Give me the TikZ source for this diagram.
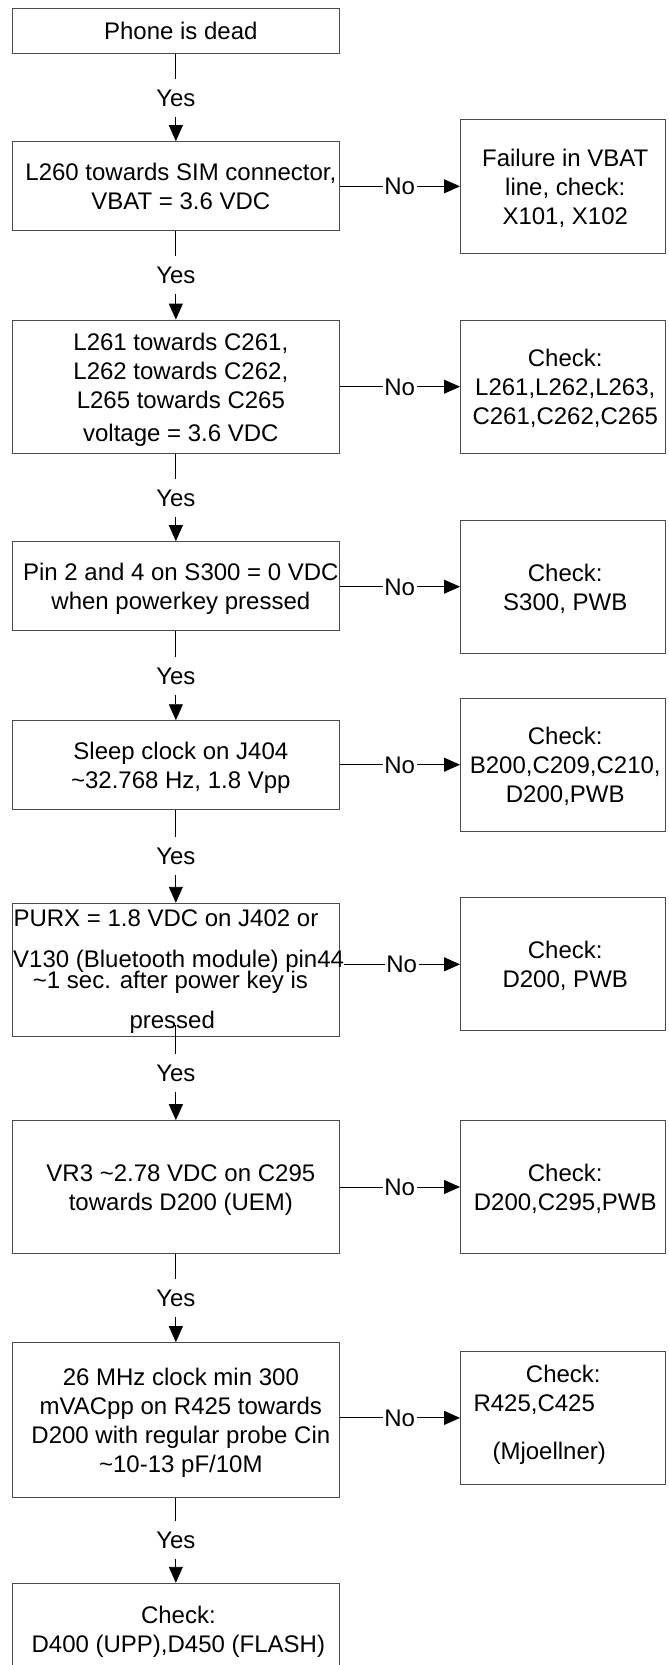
\documentclass[tikz,border=0pt]{standalone}
\usepackage{fontspec}
\setmainfont{Liberation Sans}
\usetikzlibrary{arrows.meta}
\newcommand{\BoxTxt}[2][10pt]{\makebox[0pt]{\hspace*{#1}\raisebox{-3pt}[\height][\depth]{\begin{tabular}{@{}c@{}}#2\end{tabular}}}}
\begin{document}
\begin{tikzpicture}[x=1pt,y=-1pt,
  bigfont/.style={font=\fontsize{24}{29}\selectfont},
  box/.style={draw=black!70, line width=1pt, inner sep=0pt, bigfont},
  mainbox/.style={box, minimum width=326.3pt},
  sidebox/.style={box, minimum width=204.5pt},
  txt/.style={inner sep=0pt, bigfont},
  link/.style={draw=black, line width=0.9pt, -{Triangle[length=16pt,width=14pt]}},
  yeslbl/.style={txt, fill=white, text height=17pt, text depth=0pt, inner xsep=2pt, inner ysep=10.5pt},
  nolbl/.style={txt, fill=white, text height=17pt, text depth=0pt, inner xsep=1.5pt, inner ysep=2pt},
]
\useasboundingbox (0,0) rectangle (669,1665);

% main column
\node[mainbox, minimum height=45pt]    (b1) at (175.85,30.8)  {\BoxTxt{Phone is dead}};
\node[mainbox, minimum height=89pt]    (b2) at (175.85,186.2) {\BoxTxt{L260 towards SIM connector,\\VBAT = 3.6 VDC}};
\node[mainbox, minimum height=133.3pt] (b3) at (175.85,386.7) {\BoxTxt{L261 towards C261,\\L262 towards C262,\\L265 towards C265\\[4pt]voltage = 3.6 VDC}};
\node[mainbox, minimum height=89pt]    (b4) at (175.85,586.2) {\BoxTxt{Pin 2 and 4 on S300 = 0 VDC\\when powerkey pressed}};
\node[mainbox, minimum height=88.3pt]  (b5) at (175.85,764.9) {\BoxTxt{Sleep clock on J404\\\textasciitilde32.768 Hz, 1.8 Vpp}};
\node[mainbox, minimum height=133.4pt] (b6) at (175.85,970)   {};
\node[mainbox, minimum height=132.6pt] (b7) at (175.85,1187)  {\BoxTxt{VR3 \textasciitilde2.78 VDC on C295\\towards D200 (UEM)}};
\node[mainbox, minimum height=154.6pt] (b8) at (175.85,1420)  {\BoxTxt{26 MHz clock min 300\\mVACpp on R425 towards\\D200 with regular probe Cin\\\textasciitilde10-13 pF/10M}};
\node[mainbox, minimum height=92pt]    (b9) at (175.85,1629.3) {\BoxTxt[5pt]{Check:\\D400 (UPP),D450 (FLASH)}};

% free text of box 6
\node[txt, anchor=base west] (t6a) at (13.3,926)   {PURX = 1.8 VDC on J402 or};
\node[txt, anchor=base west] (t6b) at (13.0,967.3) {V130 (Bluetooth module) pin44};
\node[txt, anchor=base west] (t6c) at (32.7,988.3) {\textasciitilde1 sec. after power key is};
\node[txt, anchor=base west] (t6d) at (129.3,1028.3) {pressed};

% side column
\node[sidebox, minimum height=134pt]   (r1) at (562.75,186.3)  {\BoxTxt[5pt]{Failure in VBAT\\line, check:\\X101, X102}};
\node[sidebox, minimum height=133.3pt] (r2) at (562.75,386.7)  {\BoxTxt[5pt]{Check:\\L261,L262,L263,\\C261,C262,C265}};
\node[sidebox, minimum height=133.3pt] (r3) at (562.75,586.7)  {\BoxTxt[5pt]{Check:\\S300, PWB}};
\node[sidebox, minimum height=132.7pt] (r4) at (562.75,764.7)  {\BoxTxt[5pt]{Check:\\B200,C209,C210,\\D200,PWB}};
\node[sidebox, minimum height=133.3pt] (r5) at (562.75,964.3)  {\BoxTxt[5pt]{Check:\\D200, PWB}};
\node[sidebox, minimum height=132.6pt] (r6) at (562.75,1187)   {\BoxTxt[5pt]{Check:\\D200,C295,PWB}};
\node[sidebox, minimum height=132.3pt] (r7) at (562.75,1417.9) {};
\node[txt, anchor=base] (t7a) at (563.3,1382.6) {Check:};
\node[txt, anchor=base west] (t7b) at (473.3,1411.9) {R425,C425};
\node[txt, anchor=base] (t7c) at (549.2,1459.4) {(Mjoellner)};

% Yes connectors
\draw[link] (b1) -- node[yeslbl] (y1) {Yes} (b2);
\draw[link] (b2) -- node[yeslbl] (y2) {Yes} (b3);
\draw[link] (b3) -- node[yeslbl] (y3) {Yes} (b4);
\draw[link] (b4) -- node[yeslbl] (y4) {Yes} (b5);
\draw[link] (b5) -- node[yeslbl] (y5) {Yes} (b6);
\draw[link] ([yshift=12pt]b6.south) -- node[yeslbl] (y6) {Yes} (b7);
\draw[link] (b7) -- node[yeslbl] (y7) {Yes} (b8);
\draw[link] (b8) -- node[yeslbl] (y8) {Yes} (b9);

% No connectors
\draw[link] (b2.east |- r1.west) -- node[nolbl] (n1) {No} (r1.west);
\draw[link] (b3.east |- r2.west) -- node[nolbl] (n2) {No} (r2.west);
\draw[link] (b4.east |- r3.west) -- node[nolbl] (n3) {No} (r3.west);
\draw[link] (b5.east |- r4.west) -- node[nolbl] (n4) {No} (r4.west);
\draw[link] ([xshift=4pt]b6.east |- r5.west) -- node[nolbl] (n5) {No} (r5.west);
\draw[link] (b7.east |- r6.west) -- node[nolbl] (n6) {No} (r6.west);
\draw[link] (b8.east |- r7.west) -- node[nolbl] (n7) {No} (r7.west);
\end{tikzpicture}
\end{document}
